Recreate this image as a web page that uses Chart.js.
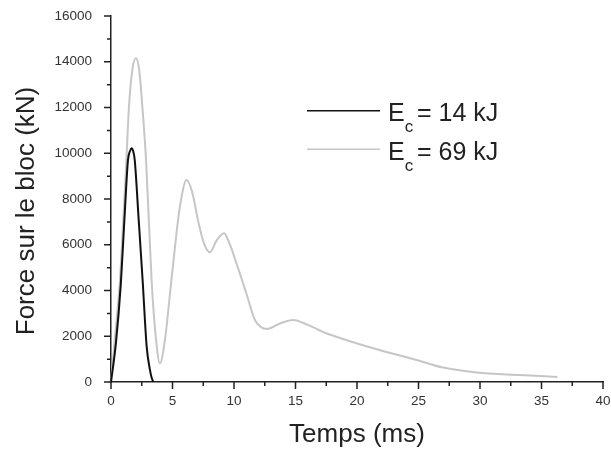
<!DOCTYPE html>
<html><head><meta charset="utf-8">
<script src="https://cdn.jsdelivr.net/npm/chart.js@4/dist/chart.umd.min.js"></script>
<style>html,body{margin:0;padding:0;background:#fff;}#wrap{width:611px;height:454px;position:relative;}</style>
</head><body><div id="wrap"><canvas id="c" width="611" height="454"></canvas></div>
<script>
// ---- data ----
const seriesLabels = ['Ec = 14 kJ', 'Ec = 69 kJ'];
const legendMain = ['E', 'E'];
const legendSub = ['c', 'c'];
const legendRest = [' = 14 kJ', ' = 69 kJ'];

const timeLow  = [0, 0.4, 0.8, 1.1, 1.38, 1.55, 1.68, 1.8, 1.93, 2.25, 2.57, 2.9, 3.17, 3.3, 3.44];
const forceLow = [0, 1700, 4300, 7200, 9700, 10100, 10215, 10100, 9700, 7100, 4460, 1545, 520, 200, 0];

const timeHigh  = [0, 0.33, 0.73, 1.0, 1.25, 1.46, 1.75, 2.03, 2.3, 2.55, 2.85, 3.3, 3.6, 3.98, 4.4, 4.8, 5.2, 5.6, 6.15, 6.6, 7.1, 7.56, 8.05, 8.6, 9.19, 9.6, 10.2, 11.0, 11.7, 12.2, 12.66, 13.74, 14.8, 16.0, 17.5, 19.7, 22.1, 24.85, 27.0, 29.7, 33.25, 36.3];
const forceHigh = [0, 2000, 4460, 7100, 9700, 12030, 13700, 14150, 13600, 12030, 9700, 4460, 2200, 815, 1900, 3880, 5900, 7660, 8830, 8300, 7000, 6060, 5670, 6200, 6500, 6100, 5190, 3880, 2710, 2400, 2316, 2560, 2710, 2500, 2130, 1735, 1355, 960, 630, 420, 305, 220];

const xMajorTicks = [0, 5, 10, 15, 20, 25, 30, 35, 40];
const yMajorTicks = [0, 2000, 4000, 6000, 8000, 10000, 12000, 14000, 16000];
const xTitle = 'Temps (ms)';
const yTitle = 'Force sur le bloc (kN)';

const FONT = '"Liberation Sans", Arial, Helvetica, sans-serif';

const decor = {
  id: 'decor',
  afterDraw(chart) {
    const ctx = chart.ctx, xs = chart.scales.x, ys = chart.scales.y, a = chart.chartArea;
    ctx.save();
    ctx.strokeStyle = '#222';
    ctx.lineWidth = 1.5;
    ctx.beginPath();
    xs.ticks.forEach(t => {
      const p = xs.getPixelForValue(t.value);
      const len = xMajorTicks.includes(t.value) ? 7 : 4;
      ctx.moveTo(p, a.bottom); ctx.lineTo(p, a.bottom + len);
    });
    ys.ticks.forEach(t => {
      const p = ys.getPixelForValue(t.value);
      const len = yMajorTicks.includes(t.value) ? 7 : 4;
      ctx.moveTo(a.left, p); ctx.lineTo(a.left - len, p);
    });
    ctx.stroke();

    // y title
    ctx.save();
    ctx.translate(33.5, 211);
    ctx.rotate(-Math.PI / 2);
    ctx.font = '26px ' + FONT;
    ctx.fillStyle = '#222';
    ctx.textAlign = 'center';
    ctx.textBaseline = 'alphabetic';
    ctx.fillText(yTitle, 0, 0);
    ctx.restore();

    // legend
    chart.data.datasets.forEach((ds, i) => {
      const yb = 121 + i * 38.5;
      const ly = yb - 10.3;
      ctx.beginPath();
      ctx.strokeStyle = ds.borderColor;
      ctx.lineWidth = 1.5;
      ctx.moveTo(307, ly); ctx.lineTo(380, ly);
      ctx.stroke();
      ctx.fillStyle = '#222';
      ctx.textAlign = 'left';
      ctx.textBaseline = 'alphabetic';
      ctx.font = '25px ' + FONT;
      ctx.fillText(legendMain[i], 388, yb);
      const w = ctx.measureText(legendMain[i]).width;
      ctx.font = '17px ' + FONT;
      ctx.fillText(legendSub[i], 388 + w, yb + 11);
      ctx.font = '25px ' + FONT;
      ctx.fillText(legendRest[i], 410, yb);
    });
    ctx.restore();
  }
};

new Chart(document.getElementById('c'), {
  type: 'line',
  data: {
    datasets: [
      {
        label: seriesLabels[0],
        data: timeLow.map((t, i) => ({ x: t, y: forceLow[i] })),
        borderColor: '#111111',
        borderWidth: 2,
        pointRadius: 0,
        cubicInterpolationMode: 'monotone',
        fill: false,
        clip: false
      },
      {
        label: seriesLabels[1],
        data: timeHigh.map((t, i) => ({ x: t, y: forceHigh[i] })),
        borderColor: '#c6c6c6',
        borderWidth: 2,
        pointRadius: 0,
        cubicInterpolationMode: 'monotone',
        fill: false,
        clip: false
      }
    ]
  },
  options: {
    responsive: false,
    devicePixelRatio: 1,
    animation: false,
    layout: { padding: { top: 16, right: 8, left: 0, bottom: 0 } },
    plugins: { legend: { display: false }, tooltip: { enabled: false } },
    scales: {
      x: {
        type: 'linear',
        min: 0, max: 40,
        grid: { display: false },
        border: { display: true, color: '#222', width: 1.5 },
        ticks: {
          stepSize: 2.5, autoSkip: false, maxRotation: 0, padding: 3,
          color: '#333', font: { family: FONT, size: 13.5 },
          callback: v => xMajorTicks.includes(v) ? String(v) : ''
        },
        title: { display: true, text: xTitle, color: '#222', font: { family: FONT, size: 26 }, padding: { top: 0, bottom: 4 } },
        afterFit: s => { s.height = 72; s.paddingLeft = 0; s.paddingRight = 0; }
      },
      y: {
        type: 'linear',
        min: 0, max: 16000,
        grid: { display: false },
        border: { display: true, color: '#222', width: 1.5 },
        ticks: {
          stepSize: 1000, autoSkip: false, padding: 11,
          color: '#333', font: { family: FONT, size: 13.5 },
          callback: v => yMajorTicks.includes(v) ? String(v) : ''
        },
        afterFit: s => { s.width = 111; s.paddingTop = 0; s.paddingBottom = 0; }
      }
    }
  },
  plugins: [decor]
});
</script>
</body></html>
